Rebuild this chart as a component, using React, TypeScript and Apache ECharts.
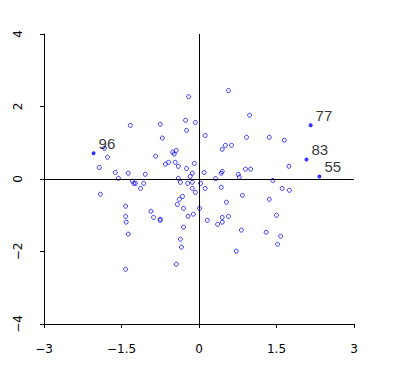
import React, { useEffect, useRef } from "react";
import * as echarts from "echarts";

// Open (unlabelled) observations
const openX = [
  -0.20, 0.57, -0.26, -0.07, -1.33, -0.75, -0.24, 0.98, 0.12, -0.71,
  0.92, 1.36, 1.65, 0.51, 0.63, 0.45, -1.83, -0.44, -0.51, -0.48,
  -1.77, -0.84, -0.65, -0.59, -0.46, -0.40, -0.24, -0.09, -1.93, -1.62,
  -1.37, -1.04, 0.10, 0.43, 0.45, 0.76, 0.90, 1.00, 1.74, -0.17,
  -0.13, -0.40, 0.32, 0.78, -1.56, 1.43, -1.29, -1.26, -1.23, -1.07,
  -0.36, -0.22, -0.13, 0.03, -1.13, -0.13, 0.12, 0.43, 1.61, 1.75,
  -0.07, -1.91, -0.32, 0.84, -0.38, 1.36, 0.53, -0.42, -1.42, -0.30,
  0.01, -0.93, -0.11, -0.21, -1.42, -0.88, -0.75, -0.75, -1.41, 0.16,
  1.50, 0.45, 0.57, 0.45, 0.36, -0.30, 0.82, 1.30, -1.37, 1.58,
  -0.36, 1.52, -0.34, 0.72, -0.44, -1.42,
];
const openY = [
  2.27, 2.44, 1.62, 1.56, 1.48, 1.51, 1.34, 1.76, 1.20, 1.13,
  1.15, 1.15, 1.07, 0.93, 0.93, 0.82, 0.85, 0.79, 0.74, 0.69,
  0.60, 0.63, 0.41, 0.46, 0.46, 0.35, 0.29, 0.43, 0.32, 0.18,
  0.16, 0.13, 0.18, 0.16, 0.21, 0.13, 0.27, 0.27, 0.35, 0.07,
  0.16, 0.02, 0.01, 0.05, 0.02, -0.04, -0.06, -0.12, -0.12, -0.12,
  -0.09, -0.12, -0.09, -0.12, -0.26, -0.26, -0.26, -0.23, -0.26, -0.31,
  -0.37, -0.42, -0.48, -0.45, -0.56, -0.56, -0.64, -0.70, -0.75, -0.81,
  -0.81, -0.89, -0.97, -1.03, -1.03, -1.06, -1.11, -1.14, -1.19, -1.14,
  -1.00, -1.06, -1.03, -1.19, -1.25, -1.33, -1.41, -1.47, -1.52, -1.58,
  -1.66, -1.80, -1.88, -1.99, -2.35, -2.49,
];

// Labelled (highlighted) observations
const labelNames = ["96", "77", "83", "55"];
const labelX = [-2.04, 2.16, 2.08, 2.33];
const labelY = [0.71, 1.48, 0.54, 0.07];

// Axis ticks
const xTicks = [-3, -1.5, 0, 1.5, 3];
const yTicks = [-4, -2, 0, 2, 4];

const fmt = (v: number) => (v < 0 ? "\u2212" + String(-v) : String(v));

export default function App() {
  const ref = useRef<HTMLDivElement>(null);
  useEffect(() => {
    if (!ref.current) return;
    const chart = echarts.init(ref.current, undefined, { renderer: "svg" });
    const black = "#000000";
    const blue = "#0000ff";
    chart.setOption({
      animation: false,
      backgroundColor: "#ffffff",
      grid: { left: 44, right: 40, top: 34, bottom: 44 },
      xAxis: {
        type: "value",
        min: xTicks[0],
        max: xTicks[xTicks.length - 1],
        interval: xTicks[1] - xTicks[0],
        axisLine: { show: true, onZero: false, lineStyle: { color: black, width: 1 } },
        axisTick: { show: true, length: 4, lineStyle: { color: black } },
        axisLabel: {
          color: black,
          fontFamily: "DejaVu Sans",
          fontSize: 12,
          margin: 19,
          formatter: fmt,
        },
        splitLine: { show: false },
      },
      yAxis: {
        type: "value",
        min: yTicks[0],
        max: yTicks[yTicks.length - 1],
        interval: yTicks[1] - yTicks[0],
        axisLine: { show: true, onZero: false, lineStyle: { color: black, width: 1 } },
        axisTick: { show: true, length: 4, lineStyle: { color: black } },
        axisLabel: {
          color: black,
          fontFamily: "DejaVu Sans",
          fontSize: 12,
          rotate: 90,
          margin: 20,
          formatter: fmt,
        },
        splitLine: { show: false },
      },
      series: [
        {
          type: "scatter",
          data: openX.map((x, i) => [x, openY[i]]),
          symbol: "circle",
          symbolSize: 4,
          itemStyle: { color: "rgba(0,0,0,0)", borderColor: blue, borderWidth: 1 },
          markLine: {
            silent: true,
            symbol: "none",
            label: { show: false },
            lineStyle: { color: black, width: 1, type: "solid" },
            data: [{ xAxis: 0 }, { yAxis: 0 }],
          },
          z: 3,
        },
        {
          type: "scatter",
          data: labelX.map((x, i) => ({ name: labelNames[i], value: [x, labelY[i]] })),
          symbol: "circle",
          symbolSize: 4,
          itemStyle: { color: blue },
          label: {
            show: true,
            position: "right",
            distance: 3,
            offset: [0, -10],
            formatter: (p: any) => p.name,
            color: black,
            fontFamily: "Liberation Sans",
            fontSize: 15,
          },
          z: 4,
        },
      ],
    });
    return () => chart.dispose();
  }, []);
  return (
    <div
      ref={ref}
      style={{ position: "absolute", left: 0, top: 0, width: 394, height: 368 }}
    />
  );
}
